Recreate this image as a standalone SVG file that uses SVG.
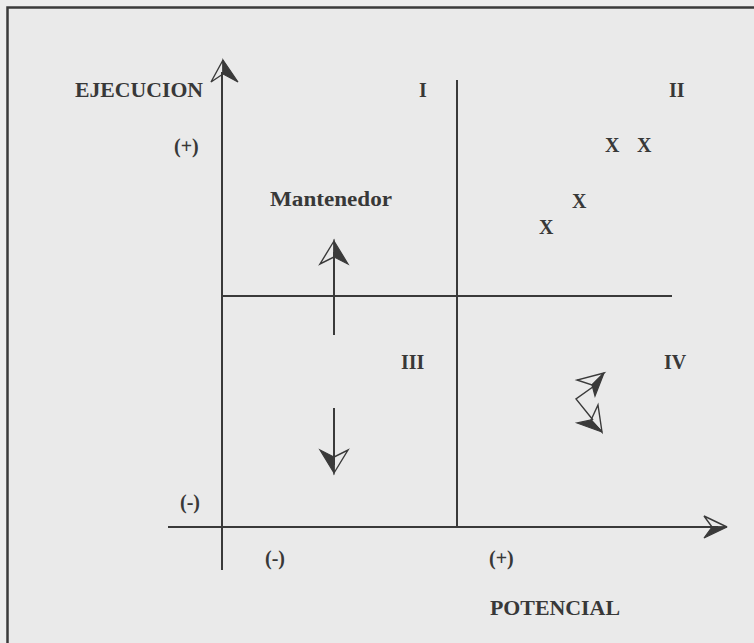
<svg xmlns="http://www.w3.org/2000/svg" width="754" height="643" viewBox="0 0 754 643">
<style>
.t{font-family:"Liberation Serif","DejaVu Serif",serif;font-weight:bold;fill:#383838;font-size:20px}
.ln{stroke:#3a3a3a;stroke-width:2;fill:none}
.ah{fill:#3a3a3a;stroke:#3a3a3a;stroke-width:1.2;stroke-linejoin:miter}
.ao{fill:none;stroke:#3a3a3a;stroke-width:1.4}
</style>
<rect x="0" y="0" width="754" height="643" fill="#ececec"/>
<rect x="7.5" y="7.5" width="760" height="660" fill="#eaeaea" stroke="#3a3a3a" stroke-width="2.5"/>
<g id="connectors">
  <line class="ln" x1="222" y1="72" x2="222" y2="570"/>
  <line class="ln" x1="168" y1="527" x2="718" y2="527"/>
  <line class="ln" x1="457" y1="80" x2="457" y2="527"/>
  <line class="ln" x1="222" y1="296" x2="672" y2="296"/>
  <line class="ln" x1="334" y1="252" x2="334" y2="335"/>
  <line class="ln" x1="334" y1="408" x2="334" y2="465"/>
</g>
<g id="axis-y-arrow">
  <path class="ao" d="M223,60 L211,82 L223,74 Z"/>
  <path class="ah" d="M223,60 L238,82 L223,74 Z"/>
</g>
<g id="axis-x-arrow">
  <path class="ao" d="M727,527 L704,516 L712,527 Z"/>
  <path class="ah" d="M727,527 L704,538 L712,527 Z"/>
</g>
<g id="up-arrow">
  <path class="ao" d="M334,241 L320,264 L334,257 Z"/>
  <path class="ah" d="M334,241 L348,264 L334,257 Z"/>
</g>
<g id="down-arrow">
  <path class="ao" d="M334,473 L348,450 L334,457 Z"/>
  <path class="ah" d="M334,473 L320,450 L334,457 Z"/>
</g>
<g id="zigzag">
  <polyline class="ao" points="597,384 576,399 593,420"/>
  <path class="ao" d="M604,373 L577,380 L592,385 Z"/>
  <path class="ah" d="M604,373 L592,385 L595,396 Z"/>
  <path class="ao" d="M598,405 L602,432 L591,420 Z"/>
  <path class="ah" d="M602,432 L577,423 L591,420 Z"/>
</g>
<g id="label-ejecucion"><text class="t" x="75" y="97" textLength="128" lengthAdjust="spacingAndGlyphs">EJECUCION</text></g>
<g id="label-potencial"><text class="t" x="490" y="615" textLength="130" lengthAdjust="spacingAndGlyphs">POTENCIAL</text></g>
<g id="label-mantenedor"><text class="t" x="270" y="206" textLength="122" lengthAdjust="spacingAndGlyphs">Mantenedor</text></g>
<g id="quadrant-I"><text class="t" x="419" y="97">I</text></g>
<g id="quadrant-II"><text class="t" x="669" y="97">II</text></g>
<g id="quadrant-III"><text class="t" x="401" y="369">III</text></g>
<g id="quadrant-IV"><text class="t" x="664" y="369">IV</text></g>
<g id="y-plus"><text class="t" x="174" y="153">(+)</text></g>
<g id="y-minus"><text class="t" x="180" y="509">(-)</text></g>
<g id="x-minus"><text class="t" x="265" y="565">(-)</text></g>
<g id="x-plus"><text class="t" x="489" y="565">(+)</text></g>
<g id="marks">
  <text class="t" x="605" y="152">X</text>
  <text class="t" x="637" y="152">X</text>
  <text class="t" x="572" y="208">X</text>
  <text class="t" x="539" y="234">X</text>
</g>
</svg>
